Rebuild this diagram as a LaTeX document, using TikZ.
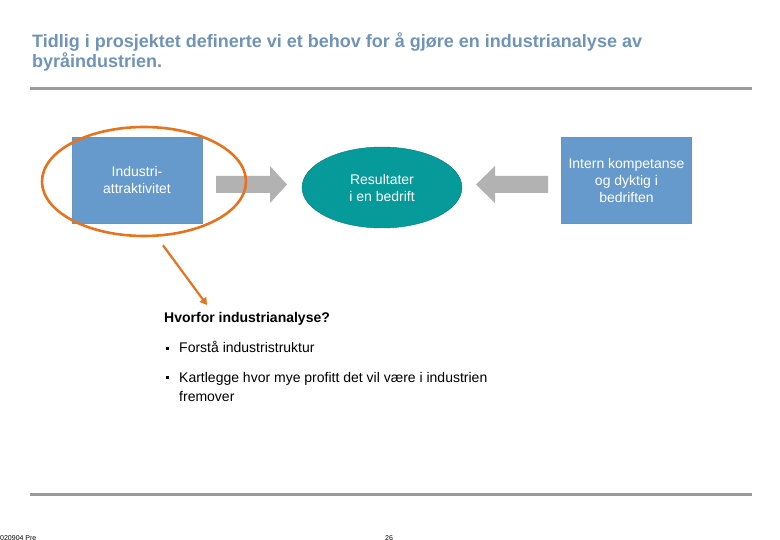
\documentclass[tikz,border=0pt]{standalone}
\usepackage{fontspec}
\setmainfont{Liberation Sans}
\usetikzlibrary{arrows.meta,shapes.geometric}
\definecolor{titleblue}{HTML}{6F93BA}
\definecolor{boxblue}{HTML}{6699CC}
\definecolor{tealc}{HTML}{079A9A}
\definecolor{arrgray}{HTML}{B2B2B2}
\definecolor{rulegray}{HTML}{9B9B9B}
\definecolor{orangec}{HTML}{E8731E}
\tikzset{
  bluebox/.style={fill=boxblue, draw=boxblue!80!gray, line width=0.6pt, minimum width=130pt, minimum height=86pt, inner sep=0pt, text=white, align=center, font=\fontsize{14}{17}\selectfont},
  rulel/.style={rulegray, line width=3pt},
  blockarrow/.style={fill=arrgray},
  bodytext/.style={anchor=base west, inner sep=0pt, font=\fontsize{14}{16}\selectfont}
}
\begin{document}
\begin{tikzpicture}[x=1pt,y=-1pt]
\useasboundingbox (0,0) rectangle (780,540);
% title
\node[anchor=base west, inner sep=0pt, text=titleblue, font=\bfseries\fontsize{18}{20}\selectfont, align=left] (title) at (32,68) {Tidlig i prosjektet definerte vi et behov for å gjøre en industrianalyse av\\byråindustrien.};
\draw[rulel] (30,89) -- (752,89);
\draw[rulel] (30,494) -- (752,494);
% boxes
\node[bluebox] (left) at (137,180) {Industri-\\attraktivitet};
\node[bluebox] (right) at (626.5,180) {Intern kompetanse\\og dyktig i\\bedriften};
\node[ellipse, fill=tealc, draw=tealc!80!black, line width=0.4pt, minimum width=160pt, minimum height=81pt, inner sep=0pt, text=white, align=center, font=\fontsize{14}{17}\selectfont] (res) at (382,187.5) {Resultater\\i en bedrift};
% block arrows
\fill[blockarrow] (216,176) -- (270,176) -- (270,166) -- (287,184.5) -- (270,203) -- (270,193) -- (216,193) -- cycle;
\fill[blockarrow] (548,176) -- (495,176) -- (495,166) -- (476,184.5) -- (495,203) -- (495,193) -- (548,193) -- cycle;
% orange ellipse
\node[ellipse, draw=orangec, line width=2.6pt, minimum width=204pt, minimum height=109pt, inner sep=0pt] (ring) at (144,181.5) {};
\coordinate (why) at (207,305);
\draw[orangec, line width=2.2pt, -{Triangle[length=7pt,width=8pt]}] ([xshift=19pt,yshift=-8pt]ring.south) -- (why);
% text block
\node[bodytext, font=\bfseries\fontsize{14}{16}\selectfont] (h) at (164,323) {Hvorfor industrianalyse?};
\node[bodytext] (b1) at (179,353) {Forstå industristruktur};
\node[bodytext] (b2) at (179,382) {Kartlegge hvor mye profitt det vil være i industrien};
\node[bodytext] (b3) at (179,402) {fremover};
\fill (165.5,347.5) rectangle (168.5,350.5);
\fill (165.5,376.5) rectangle (168.5,379.5);
% footer
\node[anchor=base west, inner sep=0pt, font=\fontsize{7}{8}\selectfont] (f1) at (0,540) {020904 Pre};
\node[anchor=base west, inner sep=0pt, font=\fontsize{7}{8}\selectfont] (f2) at (385,540) {26};
\end{tikzpicture}
\end{document}
